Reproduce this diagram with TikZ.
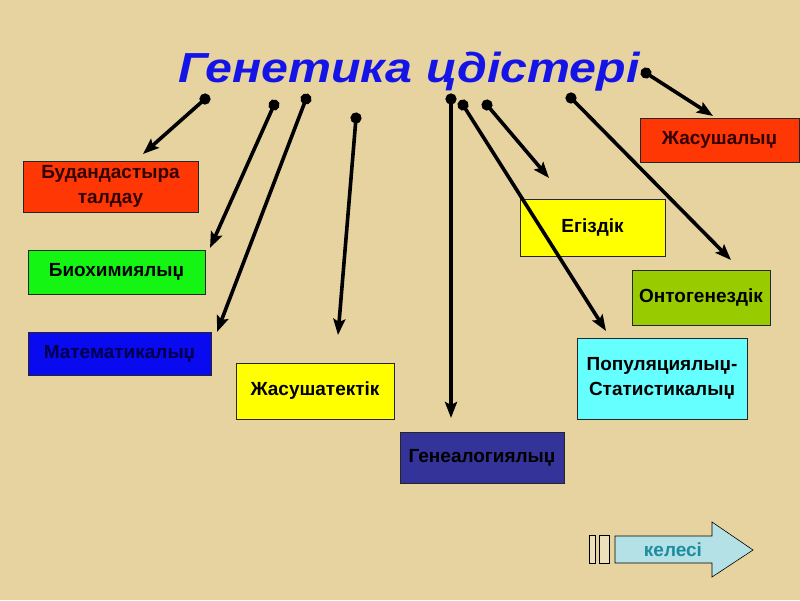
\documentclass[tikz,border=0pt]{standalone}
\usepackage{fontspec}
\setmainfont{Liberation Sans}
\newfontfamily\titlefont[FakeStretch=1.15]{Liberation Sans}
\usetikzlibrary{arrows.meta, positioning}

\definecolor{paper}{RGB}{230,211,160}
\definecolor{titleblue}{RGB}{20,20,230}
\definecolor{boxred}{RGB}{255,55,5}
\definecolor{boxgreen}{RGB}{20,245,20}
\definecolor{boxblue}{RGB}{10,10,240}
\definecolor{boxyellow}{RGB}{255,255,0}
\definecolor{boxnavy}{RGB}{51,51,153}
\definecolor{boxcyan}{RGB}{102,255,255}
\definecolor{boxolive}{RGB}{153,204,0}
\definecolor{nextfill}{RGB}{180,225,230}
\definecolor{nextteal}{RGB}{30,140,160}

\begin{document}
\begin{tikzpicture}[x=1pt, y=-1pt,
  method/.style={
    draw=black!85, line width=0.9pt,
    align=center, inner sep=2pt,
    font=\fontsize{19}{25}\selectfont\bfseries
  },
  link/.style={
    {Circle[length=11pt]}-{Stealth[length=16pt, width=12pt, inset=3pt]},
    line width=3.6pt, draw=black, shorten <=-5.5pt
  }
]
  \useasboundingbox (0,0) rectangle (800,600);
  \fill[paper] (0,0) rectangle (800,600);

  \node[anchor=base, text=titleblue,
    font=\titlefont\fontsize{42}{46}\selectfont\bfseries\itshape]
    (title) at (409,82) {Генетика цдістері};

  % method boxes
  \node[method, fill=boxred, text=black!80!red, minimum width=175pt, minimum height=51pt]
    (bud) at (110.5,186.5) {Будандастыра\\талдау};
  \node[method, fill=boxgreen, minimum width=177pt, minimum height=44pt]
    (bio) at (116.5,272) {Биохимиялыџ};
  \node[method, fill=boxblue, text=blue!30!black, minimum width=183pt, minimum height=43pt]
    (mat) at (119.5,353.5) {Математикалыџ};
  \node[method, fill=boxyellow, minimum width=158pt, minimum height=56pt]
    (jtek) at (315,391) {Жасушатектік};
  \node[method, fill=boxnavy, minimum width=164pt, minimum height=51pt]
    (gen) at (482,457.5) {Генеалогиялыџ};
  \node[method, fill=boxcyan, minimum width=170pt, minimum height=81pt]
    (pop) at (662,378.5) {Популяциялыџ-\\Статистикалыџ};
  \node[method, fill=boxolive, minimum width=138pt, minimum height=55pt]
    (ont) at (701,297.5) {Онтогенездік};
  \node[method, fill=boxyellow, minimum width=145pt, minimum height=57pt]
    (egiz) at (592.5,227.5) {Егіздік};
  \node[method, fill=boxred, text=black!80!red, minimum width=159pt, minimum height=44pt]
    (jas) at (719.5,140) {Жасушалыџ};

  % arrow ends
  \coordinate (d-bud) at (205,99);   \coordinate (t-bud) at (143,154);
  \coordinate (d-bio) at (274,105);  \coordinate (t-bio) at (210,248);
  \coordinate (d-mat) at (306,99);   \coordinate (t-mat) at (217,332);
  \coordinate (d-jtek) at (356,118); \coordinate (t-jtek) at (338,335);
  \coordinate (d-gen) at (451,99);   \coordinate (t-gen) at (451,418);
  \coordinate (d-pop) at (463,105);  \coordinate (t-pop) at (606,331);
  \coordinate (d-egiz) at (487,105); \coordinate (t-egiz) at (549,178);
  \coordinate (d-ont) at (571,98);   \coordinate (t-ont) at (731,260);
  \coordinate (d-jas) at (646,73);   \coordinate (t-jas) at (713,116);

  \foreach \m in {bud, bio, mat, jtek, gen, pop, egiz, ont, jas}
    \draw[link] (d-\m) -- (t-\m);

  % next button
  \draw[black, fill=paper!70!white, line width=0.6pt] (589,535) rectangle (595,563);
  \draw[black, fill=paper!70!white, line width=0.6pt] (599,535) rectangle (609,563);
  \draw[black, fill=nextfill, line width=0.6pt]
    (615,536) -- (712,536) -- (712,522) -- (753,550) -- (712,577)
    -- (712,563) -- (615,563) -- cycle;
  \node[text=nextteal, font=\fontsize{19}{22}\selectfont\bfseries]
    (next) at (673,550) {келесі};
\end{tikzpicture}
\end{document}
